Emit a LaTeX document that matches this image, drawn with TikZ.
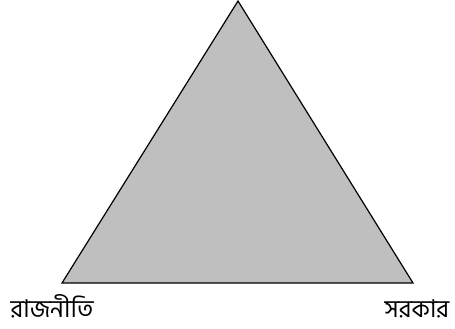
\documentclass[tikz,border=0pt]{standalone}
\usepackage{fontspec}
\newfontfamily\bnfont[Script=Bengali]{Hind Siliguri}
\begin{document}
\begin{tikzpicture}[x=1pt,y=1pt,
  lbl/.style={font=\bnfont\fontsize{24.5}{28}\selectfont, inner sep=0pt, anchor=base, text depth=3pt}]
\useasboundingbox (0,0) rectangle (455,329);
\coordinate (A) at (238,328);
\coordinate (L) at (62,46);
\coordinate (R) at (413,46);
\filldraw[fill=black!25, draw=black, line width=1.2pt, line join=miter] (A) -- (L) -- (R) -- cycle;
\node[lbl] (rl) at (52,11) {রাজনীতি};
\node[lbl] (sk) at (417,11) {সরকার};
\end{tikzpicture}
\end{document}
